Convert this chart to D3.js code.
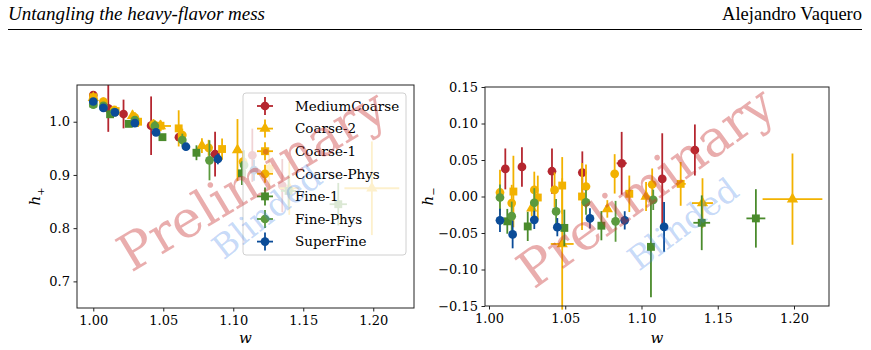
<!DOCTYPE html>
<html><head><meta charset="utf-8">
<script src="https://cdn.jsdelivr.net/npm/d3@7"></script>
<style>body{margin:0;background:#fff;} svg{display:block;}</style>
</head><body><svg id="c" width="871" height="350"></svg>
<script>
// ---------------- DATA ----------------
const seriesNames = ["MediumCoarse","Coarse-2","Coarse-1","Coarse-Phys","Fine-1","Fine-Phys","SuperFine"];
const seriesColors = ["#b5262f","#f2b200","#f2b200","#f2b200","#4a8b2c","#5b9a3e","#0b4c98"];
const seriesShapes = ["circle","triangle","square","circle","square","circle","circle"];

const wMediumCoarse   = [1.0, 1.0107, 1.0216, 1.0413, 1.0612, 1.087, 1.1136, 1.135];
const xErrMediumCoarse= [0, 0.001, 0.001, 0.001, 0.001, 0.0033, 0.002, 0.002];
const hpMediumCoarse  = [1.050, 1.025, 1.0145, 0.9925, 0.971, 0.939, 0.937, 0.88];
const hpErrMediumCoarse=[0.004, 0.044, 0.027, 0.055, 0.011, 0.042, 0.05, 0.05];
const hmMediumCoarse  = [null, 0.0378, 0.0405, 0.0346, 0.0328, 0.0455, 0.0241, 0.0637];
const hmErrMediumCoarse=[0, 0.028, 0.027, 0.031, 0.029, 0.043, 0.0625, 0.035];

const wCoarse2    = [1.0, 1.028, 1.048, 1.0776, 1.103, 1.14, 1.199];
const xErrCoarse2 = [0, 0.001, 0.0075, 0.002, 0.0025, 0.0069, 0.0196];
const hpCoarse2   = [1.045, 1.011, 0.992, 0.955, 0.947, 0.875, 0.875];
const hpErrCoarse2= [0.003, 0.01, 0.01, 0.014, 0.058, 0.05, 0.088];
const hmCoarse2   = [null, -0.016, -0.065, -0.017, 0.0, -0.009, -0.0036];
const hmErrCoarse2= [0, 0.011, 0.09, 0.012, 0.02, 0.034, 0.0625];

const wCoarse1    = [1.0, 1.016, 1.032, 1.048, 1.061, 1.092, 1.1257];
const xErrCoarse1 = [0, 0.001, 0.001, 0.001, 0.001, 0.002, 0.0033];
const hpCoarse1   = [1.046, 1.02, 1.0, 0.9925, 0.9875, 0.9487, 0.912];
const hpErrCoarse1= [0.004, 0.01, 0.01, 0.01, 0.034, 0.02, 0.04];
const hmCoarse1   = [null, 0.0068, -0.0014, 0.015, 0.0, 0.0037, 0.0173];
const hmErrCoarse1= [0, 0.049, 0.03, 0.039, 0.046, 0.025, 0.03];

const wCoarsePhys    = [1.0, 1.0072, 1.0149, 1.0297, 1.043, 1.0636, 1.0824, 1.107];
const xErrCoarsePhys = [0, 0.001, 0.001, 0.001, 0.001, 0.001, 0.001, 0.002];
const hpCoarsePhys   = [1.044, 1.0376, 1.022, 1.008, 0.995, 0.975, 0.951, 0.925];
const hpErrCoarsePhys= [0.003, 0.008, 0.008, 0.01, 0.01, 0.012, 0.015, 0.02];
const hmCoarsePhys   = [null, 0.0055, -0.009, 0.009, 0.009, 0.0137, 0.031, 0.0164];
const hmErrCoarsePhys= [0, 0.031, 0.025, 0.025, 0.024, 0.03, 0.027, 0.022];

const wFine1    = [1.0, 1.012, 1.0254, 1.0494, 1.0737, 1.1062, 1.1395, 1.175];
const xErrFine1 = [0, 0.001, 0.001, 0.001, 0.001, 0.001, 0.0055, 0.0062];
const hpFine1   = [1.034, 1.014, 0.996, 0.971, 0.9417, 0.903, 0.870, 0.845];
const hpErrFine1= [0.003, 0.006, 0.006, 0.006, 0.014, 0.022, 0.03, 0.04];
const hmFine1   = [null, -0.034, -0.041, -0.043, -0.040, -0.069, -0.036, -0.030];
const hmErrFine1= [0, 0.017, 0.02, 0.025, 0.02, 0.069, 0.0375, 0.04];

const wFinePhys    = [1.0, 1.0072, 1.0149, 1.0297, 1.044, 1.0636, 1.083, 1.1077];
const xErrFinePhys = [0, 0.001, 0.001, 0.001, 0.001, 0.001, 0.001, 0.001];
const hpFinePhys   = [1.032, 1.03, 1.018, 1.003, 0.992, 0.9656, 0.9275, 0.9186];
const hpErrFinePhys= [0.003, 0.005, 0.006, 0.007, 0.01, 0.012, 0.0376, 0.028];
const hmFinePhys   = [null, -0.0014, -0.027, -0.0086, -0.0205, -0.008, -0.034, -0.0045];
const hmErrFinePhys= [0, 0.018, 0.02, 0.02, 0.017, 0.017, 0.028, 0.014];

const wSuperFine    = [1.0, 1.0072, 1.0155, 1.0297, 1.0448, 1.0662, 1.089, 1.1148];
const xErrSuperFine = [0, 0.001, 0.001, 0.001, 0.001, 0.001, 0.001, 0.001];
const hpSuperFine   = [1.038, 1.026, 1.0177, 0.9975, 0.980, 0.953, 0.930, 0.909];
const hpErrSuperFine= [0.002, 0.004, 0.005, 0.005, 0.006, 0.007, 0.01, 0.02];
const hmSuperFine   = [null, -0.0327, -0.052, -0.032, -0.042, -0.030, -0.0327, -0.0417];
const hmErrSuperFine= [0, 0.016, 0.019, 0.0125, 0.0125, 0.014, 0.0125, 0.034];

const xTicks = [1.00, 1.05, 1.10, 1.15, 1.20];
const yTicksPlus = [0.7, 0.8, 0.9, 1.0];
const yTicksMinus = [-0.15, -0.10, -0.05, 0.00, 0.05, 0.10, 0.15];
const headerLeft = "Untangling the heavy-flavor mess";
const headerRight = "Alejandro Vaquero";

// ---------------- BUILD ----------------
const W = [wMediumCoarse,wCoarse2,wCoarse1,wCoarsePhys,wFine1,wFinePhys,wSuperFine];
const XE = [xErrMediumCoarse,xErrCoarse2,xErrCoarse1,xErrCoarsePhys,xErrFine1,xErrFinePhys,xErrSuperFine];
const HP = [hpMediumCoarse,hpCoarse2,hpCoarse1,hpCoarsePhys,hpFine1,hpFinePhys,hpSuperFine];
const HPE = [hpErrMediumCoarse,hpErrCoarse2,hpErrCoarse1,hpErrCoarsePhys,hpErrFine1,hpErrFinePhys,hpErrSuperFine];
const HM = [hmMediumCoarse,hmCoarse2,hmCoarse1,hmCoarsePhys,hmFine1,hmFinePhys,hmSuperFine];
const HME = [hmErrMediumCoarse,hmErrCoarse2,hmErrCoarse1,hmErrCoarsePhys,hmErrFine1,hmErrFinePhys,hmErrSuperFine];

const svg = d3.select("#c");
const SERIF = "'DejaVu Serif', serif";
const TIMES = "'Liberation Serif', 'Times New Roman', serif";

// header
svg.append("text").attr("x",8).attr("y",20).attr("font-family",TIMES).attr("font-style","italic")
  .attr("font-size",19).attr("fill","#000").text(headerLeft);
svg.append("text").attr("x",862).attr("y",20).attr("text-anchor","end").attr("font-family",TIMES)
  .attr("font-size",18.5).attr("fill","#000").text(headerRight);
svg.append("line").attr("x1",8).attr("x2",862).attr("y1",29.5).attr("y2",29.5).attr("stroke","#000").attr("stroke-width",1);

const fmtMinus = f => v => f(v).replace("-", "\u2212");

function symbolPath(shape){
  if(shape==="circle") return d3.symbol().type(d3.symbolCircle).size(60)();
  if(shape==="square") return d3.symbol().type(d3.symbolSquare).size(62)();
  return d3.symbol().type(d3.symbolTriangle).size(55)();
}

function panel(opt){
  const {x0,x1,y0,y1,xdom,ydom,Y,YE,yTicks,yFmt,ylabel,sub} = opt;
  const xs = d3.scaleLinear().domain(xdom).range([x0,x1]);
  const ys = d3.scaleLinear().domain(ydom).range([y1,y0]);
  const g = svg.append("g");
  // data
  for(let s=0;s<seriesNames.length;s++){
    const col = seriesColors[s];
    const sg = g.append("g");
    const pts = W[s].map((w,i)=>({w, xe:XE[s][i], y:Y[s][i], ye:YE[s][i]})).filter(d=>d.y!==null);
    sg.selectAll("line.v").data(pts).enter().append("line")
      .attr("x1",d=>xs(d.w)).attr("x2",d=>xs(d.w))
      .attr("y1",d=>ys(d.y+d.ye)).attr("y2",d=>ys(d.y-d.ye))
      .attr("stroke",col).attr("stroke-width",1.8);
    sg.selectAll("line.h").data(pts).enter().append("line")
      .attr("x1",d=>xs(d.w-d.xe)).attr("x2",d=>xs(d.w+d.xe))
      .attr("y1",d=>ys(d.y)).attr("y2",d=>ys(d.y))
      .attr("stroke",col).attr("stroke-width",1.8);
    sg.selectAll("path").data(pts).enter().append("path")
      .attr("d",symbolPath(seriesShapes[s]))
      .attr("transform",d=>`translate(${xs(d.w)},${ys(d.y)})`)
      .attr("fill",col);
  }
  // axes
  const ax = g.append("g").attr("transform",`translate(0,${y1})`)
    .call(d3.axisBottom(xs).tickValues(xTicks).tickFormat(d3.format(".2f")).tickSize(3.5).tickPadding(4.5));
  const ay = g.append("g").attr("transform",`translate(${x0},0)`)
    .call(d3.axisLeft(ys).tickValues(yTicks).tickFormat(fmtMinus(d3.format(yFmt))).tickSize(3.5).tickPadding(3.5));
  [ax,ay].forEach(a=>{
    a.select(".domain").remove();
    a.selectAll("text").attr("font-family",SERIF).attr("font-size",13).attr("fill","#000");
    a.selectAll("line").attr("stroke","#222").attr("stroke-width",1);
  });
  g.append("rect").attr("x",x0).attr("y",y0).attr("width",x1-x0).attr("height",y1-y0)
    .attr("fill","none").attr("stroke","#222").attr("stroke-width",1);
  // labels
  g.append("text").attr("x",(x0+x1)/2).attr("y",343).attr("text-anchor","middle")
    .attr("font-family",SERIF).attr("font-style","italic").attr("font-size",15).text("w");
  const yl = g.append("text").attr("transform",`translate(${opt.ylx},${(y0+y1)/2}) rotate(-90)`)
    .attr("text-anchor","middle").attr("font-family",SERIF).attr("font-size",15);
  yl.append("tspan").attr("font-style","italic").text(ylabel);
  yl.append("tspan").attr("font-size",10).attr("dy",4).text(sub);
  return {xs,ys,g};
}

const L = panel({x0:77,x1:414,y0:85,y1:308,xdom:[0.98836,1.2291],ydom:[0.65,1.069],
  Y:HP,YE:HPE,yTicks:yTicksPlus,yFmt:".1f",ylabel:"h",sub:"+",ylx:40});
const R = panel({x0:485,x1:829,y0:87,y1:306,xdom:[0.99738,1.22295],ydom:[-0.15,0.15],
  Y:HM,YE:HME,yTicks:yTicksMinus,yFmt:".2f",ylabel:"h",sub:"\u2212",ylx:433});

// legend
const lg = L.g.append("g");
lg.append("rect").attr("x",243).attr("y",93).attr("width",163).attr("height",162).attr("rx",3)
  .attr("fill","#fff").attr("fill-opacity",0.8).attr("stroke","#d0d0d0").attr("stroke-width",1);
seriesNames.forEach((n,i)=>{
  const cy = 106 + i*22.6, cx = 265, col = seriesColors[i];
  lg.append("line").attr("x1",cx-8).attr("x2",cx+8).attr("y1",cy).attr("y2",cy).attr("stroke",col).attr("stroke-width",1.8);
  lg.append("line").attr("x1",cx).attr("x2",cx).attr("y1",cy-9).attr("y2",cy+9).attr("stroke",col).attr("stroke-width",1.8);
  lg.append("path").attr("d",symbolPath(seriesShapes[i])).attr("transform",`translate(${cx},${cy})`).attr("fill",col);
  lg.append("text").attr("x",295).attr("y",cy).attr("dy","0.35em").attr("font-family",SERIF)
    .attr("font-size",13.5).attr("fill","#000").text(n);
});

// watermarks
function wm(g,txt,x,y,ang,size,col,op){
  g.append("text").attr("transform",`translate(${x},${y}) rotate(${-ang})`).attr("text-anchor","middle")
    .attr("dominant-baseline","central").attr("font-family",SERIF).attr("font-size",size)
    .attr("fill",col).attr("fill-opacity",op).text(txt);
}
wm(L.g,"Preliminary",252,180,31,51,"#c83232",0.4);
wm(L.g,"Blinded",267,212,38,33,"#3f7fe8",0.3);
wm(R.g,"Preliminary",646,187,36,51,"#c83232",0.4);
wm(R.g,"Blinded",683,224,37,33,"#3f7fe8",0.3);
</script></body></html>
